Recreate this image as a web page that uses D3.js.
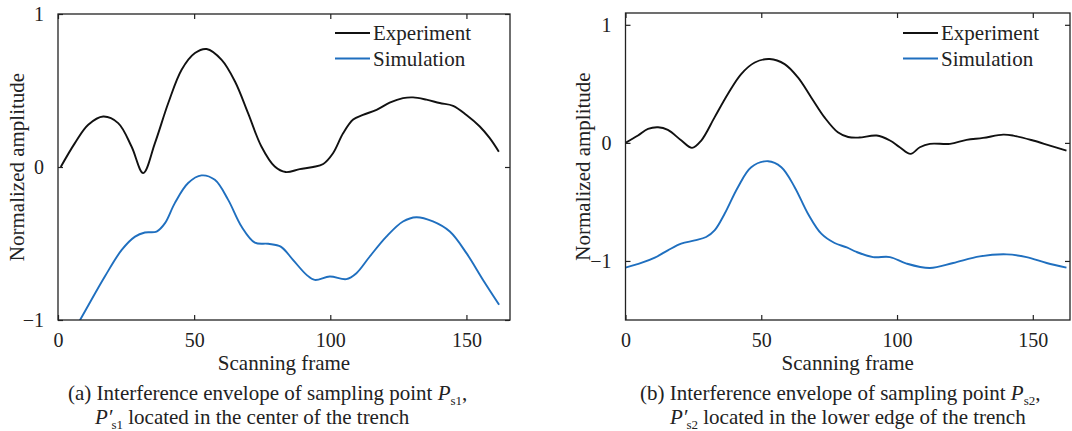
<!DOCTYPE html>
<html>
<head>
<meta charset="utf-8">
<script src="https://cdn.jsdelivr.net/npm/d3@7"></script>
<style>
  body { margin: 0; background: #fff; }
  svg { display: block; }
</style>
</head>
<body>
<svg id="chart" width="1072" height="431"></svg>
<script>
// panel (a): centre of the trench
const expAX = [1, 6.2, 11.1, 16.6, 22.1, 27, 31.3, 35.6, 40.5, 45.4, 50.3, 54.6, 60.1, 65, 69.8, 74.7, 79.6, 83.6, 88.8, 93.7, 97.4, 101, 104.7, 108.4, 112, 117, 121.8, 126.7, 130.4, 135.3, 140.2, 145.1, 150, 154.9, 158.5, 161.9];
const expAY = [0, 0.156, 0.276, 0.33, 0.287, 0.134, -0.04, 0.156, 0.418, 0.636, 0.745, 0.771, 0.70, 0.559, 0.352, 0.134, 0.003, -0.033, -0.014, 0.0, 0.02, 0.09, 0.22, 0.31, 0.34, 0.374, 0.42, 0.45, 0.455, 0.44, 0.418, 0.40, 0.34, 0.265, 0.19, 0.10];
const simAX = [1, 8.1, 17.2, 23.4, 28.3, 31.9, 36.2, 39.3, 42.9, 47.8, 52.7, 57.6, 62.5, 67.4, 72.3, 77.2, 81.8, 86.3, 91.3, 94.3, 99.8, 105.9, 109.6, 114.5, 120.6, 126.7, 131.6, 137.7, 143.9, 150, 156.1, 162];
const simAY = [-1.22, -1.0, -0.716, -0.542, -0.455, -0.428, -0.422, -0.367, -0.236, -0.105, -0.055, -0.084, -0.215, -0.389, -0.494, -0.502, -0.52, -0.607, -0.705, -0.738, -0.716, -0.733, -0.694, -0.585, -0.455, -0.356, -0.328, -0.356, -0.422, -0.563, -0.738, -0.90];

// panel (b): lower edge of the trench
const expBX = [0, 4.6, 8.3, 12, 15.6, 20.6, 24.5, 27.9, 32.8, 37.7, 42.6, 47.6, 53.1, 58.6, 63.5, 68.4, 73.3, 78.2, 82, 86, 92.5, 97.4, 101, 105, 108.4, 112.1, 119.5, 125.6, 131.7, 139.1, 142.8, 150.1, 156.3, 162.4];
const expBY = [0, 0.062, 0.118, 0.132, 0.11, 0.02, -0.042, 0.02, 0.216, 0.414, 0.583, 0.681, 0.71, 0.667, 0.554, 0.385, 0.216, 0.09, 0.05, 0.045, 0.062, 0.02, -0.037, -0.093, -0.037, -0.008, -0.008, 0.025, 0.042, 0.07, 0.062, 0.02, -0.023, -0.065];
const simBX = [0, 5.8, 10.8, 15.6, 20.5, 25.5, 29.7, 32.8, 36.5, 41.4, 46.3, 52.5, 57.4, 62.3, 67.2, 72.1, 77, 81.5, 85.1, 91.2, 97.4, 103.5, 112.1, 120.7, 130.5, 140.4, 147.7, 155.1, 162.4];
const simBY = [-1.056, -1.017, -0.972, -0.91, -0.853, -0.826, -0.797, -0.741, -0.6, -0.375, -0.206, -0.155, -0.206, -0.375, -0.6, -0.769, -0.848, -0.885, -0.924, -0.967, -0.967, -1.022, -1.06, -1.017, -0.961, -0.944, -0.967, -1.017, -1.056];

const xTicks = [0, 50, 100, 150];
const yTicks = [-1, 0, 1];
const seriesNames = ['Experiment', 'Simulation'];
const seriesColors = ['#111111', '#1f6fbf'];

const FONT = '"Liberation Serif", "Times New Roman", Times, serif';
const INK = '#222';

const svg = d3.select('#chart');
svg.append('rect').attr('width', 1072).attr('height', 431).attr('fill', '#fff');

const zip = (xs, ys) => xs.map((x, i) => ({ x, y: ys[i] }));

function label(sel, size) {
    return sel.attr('font-family', FONT)
        .style('font-family', FONT)
        .style('font-size', size + 'px')
        .attr('fill', INK);
}

function drawPanel(cfg) {
    const x = d3.scaleLinear().domain(cfg.xDomain).range([cfg.left, cfg.right]);
    const y = d3.scaleLinear().domain(cfg.yDomain).range([cfg.bottom, cfg.top]);
    const g = svg.append('g');

    g.append('clipPath').attr('id', cfg.id + '-clip')
        .append('rect')
        .attr('x', cfg.left).attr('y', cfg.top)
        .attr('width', cfg.right - cfg.left).attr('height', cfg.bottom - cfg.top);

    const line = d3.line()
        .x(d => x(d.x))
        .y(d => y(d.y))
        .curve(d3.curveCatmullRom.alpha(0.5));

    cfg.series.forEach((s, i) => {
        g.append('path')
            .datum(s)
            .attr('clip-path', `url(#${cfg.id}-clip)`)
            .attr('fill', 'none')
            .attr('stroke', seriesColors[i])
            .attr('stroke-width', 1.9)
            .attr('d', line);
    });

    // box with inward ticks on all four sides
    const axisStyle = sel => {
        sel.attr('font-family', FONT);
        sel.select('.domain').remove();
        sel.selectAll('.tick line').attr('stroke', INK).attr('stroke-width', 1.2);
        label(sel.selectAll('.tick text'), 20);
    };

    g.append('g')
        .attr('transform', `translate(0,${cfg.bottom})`)
        .call(d3.axisBottom(x).tickValues(xTicks).tickSizeInner(-5).tickSizeOuter(0).tickPadding(11))
        .call(axisStyle)
        .selectAll('.tick text').attr('dy', '0.8em');

    g.append('g')
        .attr('transform', `translate(0,${cfg.top})`)
        .call(d3.axisTop(x).tickValues(xTicks).tickSizeInner(-5).tickSizeOuter(0).tickFormat(''))
        .call(axisStyle);

    g.append('g')
        .attr('transform', `translate(${cfg.left},0)`)
        .call(d3.axisLeft(y).tickValues(yTicks).tickSizeInner(-5).tickSizeOuter(0).tickPadding(14)
            .tickFormat(d => d < 0 ? '\u2212' + Math.abs(d) : d))
        .call(axisStyle);

    g.append('g')
        .attr('transform', `translate(${cfg.right},0)`)
        .call(d3.axisRight(y).tickValues(yTicks).tickSizeInner(-5).tickSizeOuter(0).tickFormat(''))
        .call(axisStyle);

    g.append('rect')
        .attr('x', cfg.left).attr('y', cfg.top)
        .attr('width', cfg.right - cfg.left).attr('height', cfg.bottom - cfg.top)
        .attr('fill', 'none')
        .attr('stroke', INK)
        .attr('stroke-width', 1.3);

    // axis titles
    label(g.append('text'), 21)
        .attr('x', (cfg.left + cfg.right) / 2)
        .attr('y', 370)
        .attr('text-anchor', 'middle')
        .text('Scanning frame');

    label(g.append('text'), 21)
        .attr('transform', `translate(${cfg.ylabelX},${(cfg.top + cfg.bottom) / 2}) rotate(-90)`)
        .attr('text-anchor', 'middle')
        .text('Normalized amplitude');

    // legend
    seriesNames.forEach((name, i) => {
        const ly = 33 + i * 25.5;
        g.append('line')
            .attr('x1', cfg.legendX).attr('x2', cfg.legendX + 35)
            .attr('y1', ly).attr('y2', ly)
            .attr('stroke', seriesColors[i])
            .attr('stroke-width', 1.9);
        label(g.append('text'), 21)
            .attr('x', cfg.legendX + 38)
            .attr('y', ly + 7)
            .text(name);
    });

    // caption
    const c1 = label(g.append('text'), 21).attr('x', cfg.cap1X).attr('y', 400);
    c1.append('tspan').text(cfg.capPrefix + ' Interference envelope of sampling point ');
    c1.append('tspan').style('font-style', 'italic').text('P');
    c1.append('tspan').attr('dy', 5).style('font-size', '13px').text(cfg.sub);
    c1.append('tspan').attr('dy', -5).text(',');

    const c2 = label(g.append('text'), 21).attr('x', cfg.cap2X).attr('y', 424);
    c2.append('tspan').style('font-style', 'italic').text('P\u2032');
    c2.append('tspan').attr('dx', -1).attr('dy', 5).style('font-size', '13px').text(cfg.sub);
    c2.append('tspan').attr('dy', -5).text(' located in the ' + cfg.place + ' of the trench');
}

drawPanel({
    id: 'a',
    left: 58, right: 510, top: 14, bottom: 320,
    xDomain: [0, 166], yDomain: [-1, 1],
    series: [zip(expAX, expAY), zip(simAX, simAY)],
    ylabelX: 24, legendX: 335,
    cap1X: 68, cap2X: 95, capPrefix: '(a)', sub: 's1', place: 'center'
});

drawPanel({
    id: 'b',
    left: 625.5, right: 1070, top: 13, bottom: 320,
    xDomain: [0, 163.7], yDomain: [-1.5, 1.1],
    series: [zip(expBX, expBY), zip(simBX, simBY)],
    ylabelX: 590, legendX: 903,
    cap1X: 640, cap2X: 670, capPrefix: '(b)', sub: 's2', place: 'lower edge'
});
</script>
</body>
</html>
